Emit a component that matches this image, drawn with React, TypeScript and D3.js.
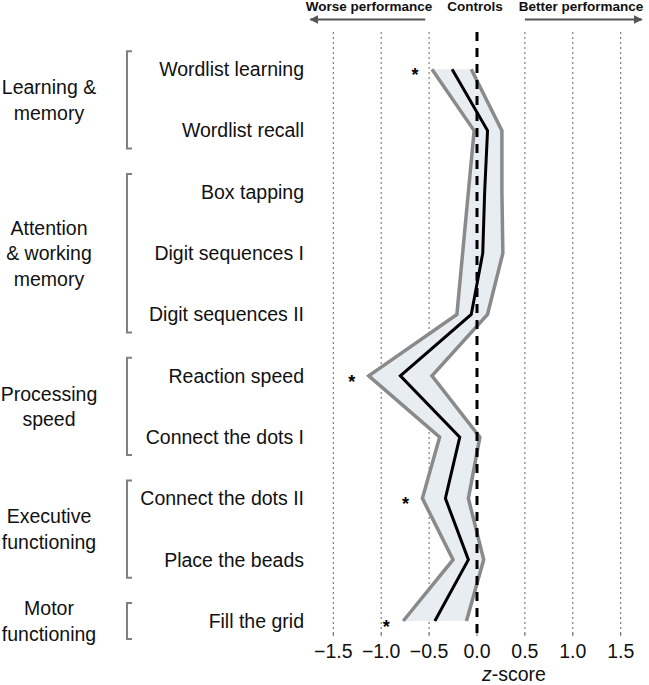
import React, { useEffect } from "react";
import * as d3 from "d3";

const tests = [
  "Wordlist learning",
  "Wordlist recall",
  "Box tapping",
  "Digit sequences I",
  "Digit sequences II",
  "Reaction speed",
  "Connect the dots I",
  "Connect the dots II",
  "Place the beads",
  "Fill the grid",
];
const meanZ = [-0.26, 0.11, 0.08, 0.06, -0.06, -0.8, -0.18, -0.33, -0.09, -0.44];
const lowerZ = [-0.47, -0.03, -0.09, -0.15, -0.21, -1.13, -0.39, -0.57, -0.25, -0.77];
const upperZ = [-0.06, 0.26, 0.26, 0.27, 0.11, -0.47, 0.03, -0.09, 0.07, -0.11];
const significant = [true, false, false, false, false, true, false, true, false, true];

const domains = [
  { lines: ["Learning &", "memory"], first: 0, last: 1 },
  { lines: ["Attention", "& working", "memory"], first: 2, last: 4 },
  { lines: ["Processing", "speed"], first: 5, last: 6 },
  { lines: ["Executive", "functioning"], first: 7, last: 8 },
  { lines: ["Motor", "functioning"], first: 9, last: 9 },
];

const xTicks = [-1.5, -1.0, -0.5, 0.0, 0.5, 1.0, 1.5];

const W = 649;
const H = 685;
const FONT = "'Liberation Sans', Arial, Helvetica, sans-serif";

export default function App() {
  useEffect(() => {
    document.body.style.margin = "0";
  }, []);

  const x = d3.scaleLinear().domain([-1.5, 1.5]).range([333.3, 620.7]);
  const y = d3.scalePoint<string>().domain(tests).range([69.3, 621]);

  const rows = tests.map((t, i) => ({ t, i, y: y(t) as number }));

  const band = d3
    .area<{ i: number; y: number }>()
    .y((d) => d.y)
    .x0((d) => x(lowerZ[d.i]))
    .x1((d) => x(upperZ[d.i]));
  const lineOf = (vals: number[]) =>
    d3
      .line<{ i: number; y: number }>()
      .x((d) => x(vals[d.i]))
      .y((d) => d.y)(rows) as string;

  const fmt = (v: number) => (v < 0 ? "\u2212" : "") + Math.abs(v).toFixed(1);

  const gridTop = 32;
  const gridBottom = 636;
  const bracketX = 127;
  const bracketPad = 18;
  const fs = 19.5;

  return (
    <svg width={W} height={H} style={{ display: "block", fontFamily: FONT }}>
      <defs>
        <marker id="ah" viewBox="0 0 10 10" refX="9" refY="5" markerWidth="4.5" markerHeight="4.5" orient="auto-start-reverse">
          <path d="M0,0 L10,5 L0,10 z" fill="#555" />
        </marker>
      </defs>

      {/* header */}
      <text x={369} y={11} textAnchor="middle" fontSize={13.5} fontWeight="bold" fill="#111">Worse performance</text>
      <text x={475} y={11} textAnchor="middle" fontSize={13.5} fontWeight="bold" fill="#111">Controls</text>
      <text x={581} y={11} textAnchor="middle" fontSize={13.5} fontWeight="bold" fill="#111">Better performance</text>
      <line x1={x(-0.54)} x2={x(-1.74)} y1={19.5} y2={19.5} stroke="#555" strokeWidth={2} markerEnd="url(#ah)" />
      <line x1={x(0.5)} x2={x(1.72)} y1={19.5} y2={19.5} stroke="#555" strokeWidth={2} markerEnd="url(#ah)" />

      {/* gridlines */}
      {xTicks.filter((v) => v !== 0).map((v) => (
        <line key={v} x1={x(v)} x2={x(v)} y1={gridTop} y2={gridBottom} stroke="#666" strokeWidth={1} strokeDasharray="2,3" />
      ))}

      {/* band */}
      <path d={band(rows) as string} fill="#e8edf2" stroke="none" />
      <path d={lineOf(lowerZ)} fill="none" stroke="#8a8a8a" strokeWidth={3.5} strokeLinejoin="miter" />
      <path d={lineOf(upperZ)} fill="none" stroke="#8a8a8a" strokeWidth={3.5} strokeLinejoin="miter" />

      {/* zero line */}
      <line x1={x(0)} x2={x(0)} y1={gridTop} y2={640} stroke="#000" strokeWidth={3} strokeDasharray="9,7" />

      <path d={lineOf(meanZ)} fill="none" stroke="#000" strokeWidth={3} strokeLinejoin="miter" />

      {/* asterisks */}
      {rows.filter((r) => significant[r.i]).map((r) => (
        <text key={r.t} x={x(lowerZ[r.i]) - 17} y={r.y + 12} textAnchor="middle" fontSize={18} fontWeight="bold" fill="#000">*</text>
      ))}

      {/* test labels */}
      {rows.map((r) => (
        <text key={r.t} x={304} y={r.y} dy="0.35em" textAnchor="end" fontSize={fs} fill="#111">{r.t}</text>
      ))}

      {/* domain brackets and labels */}
      {domains.map((d) => {
        const y0 = (y(tests[d.first]) as number) - bracketPad;
        const y1 = (y(tests[d.last]) as number) + bracketPad;
        const cy = (y0 + y1) / 2;
        const lh = 25.5;
        return (
          <g key={d.lines.join(" ")}>
            <path d={`M${bracketX + 5},${y0} H${bracketX} V${y1} H${bracketX + 5}`} fill="none" stroke="#808080" strokeWidth={2} />
            {d.lines.map((ln, k) => (
              <text key={k} x={49} y={cy + (k - (d.lines.length - 1) / 2) * lh} dy="0.35em" textAnchor="middle" fontSize={fs} fill="#111">{ln}</text>
            ))}
          </g>
        );
      })}

      {/* x axis */}
      {xTicks.map((v) => (
        <g key={v}>
          <line x1={x(v)} x2={x(v)} y1={gridBottom - 3} y2={gridBottom} stroke="#666" strokeWidth={1} />
          <text x={x(v)} y={658} textAnchor="middle" fontSize={fs} fill="#111">{fmt(v)}</text>
        </g>
      ))}
      <text x={514} y={681} textAnchor="middle" fontSize={fs} fill="#111">
        <tspan fontStyle="italic">z</tspan>-score
      </text>
    </svg>
  );
}
